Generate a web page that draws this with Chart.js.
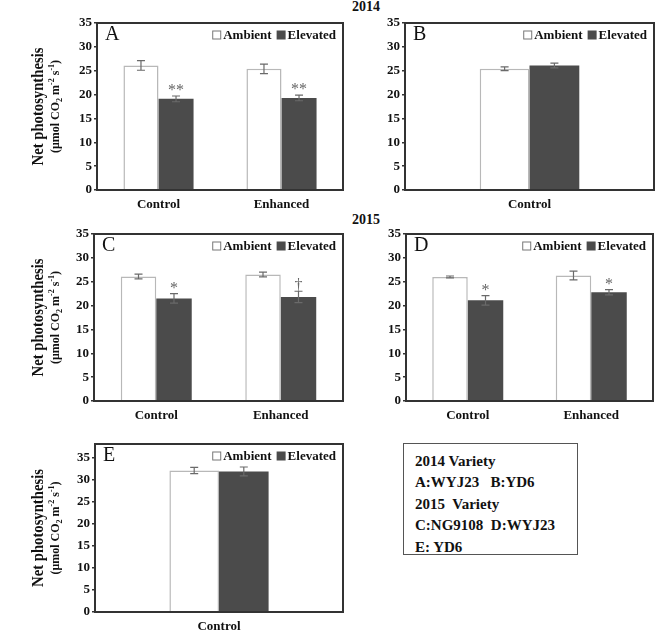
<!DOCTYPE html>
<html>
<head>
<meta charset="utf-8">
<script src="https://cdn.jsdelivr.net/npm/chart.js@4.4.1/dist/chart.umd.min.js"></script>
<style>
  body { margin: 0; background: #fff; }
  #wrap { position: relative; width: 656px; height: 635px; background: #fff; font-family: "Liberation Serif", "Times New Roman", serif; }
  canvas { position: absolute; }
  .yr { position: absolute; font-weight: bold; font-size: 14px; color: #111; line-height: 14px; }
  #note { position: absolute; left: 403px; top: 443px; border: 1.5px solid #555;
          padding: 7px 0 0 11px; box-sizing: border-box; width: 175px; height: 112px;
          font-weight: bold; font-size: 15px; line-height: 21.4px; color: #111; white-space: pre; }
</style>
</head>
<body>
<div id="wrap">
  <div class="yr" style="left:352px;top:0px">2014</div>
  <div class="yr" style="left:352px;top:213px">2015</div>
  <canvas id="cA"></canvas>
  <canvas id="cB"></canvas>
  <canvas id="cC"></canvas>
  <canvas id="cD"></canvas>
  <canvas id="cE"></canvas>
  <div id="note">2014 Variety
A:WYJ23   B:YD6
2015  Variety
C:NG9108  D:WYJ23
E: YD6</div>
</div>
<script>
// data
const categories2 = ['Control', 'Enhanced'];
const categories1 = ['Control'];
const seriesNames = ['Ambient', 'Elevated'];
const yTicks = [0, 5, 10, 15, 20, 25, 30, 35];

const ambientA = [26.1, 25.4];
const ambientErrA = [1.0, 1.0];
const elevatedA = [19.1, 19.3];
const elevatedErrA = [0.6, 0.6];
const marksA = ['**', '**'];

const ambientB = [25.4];
const ambientErrB = [0.4];
const elevatedB = [26.1];
const elevatedErrB = [0.5];
const marksB = [''];

const ambientC = [26.1, 26.5];
const ambientErrC = [0.5, 0.5];
const elevatedC = [21.5, 21.8];
const elevatedErrC = [1.0, 1.2];
const marksC = ['*', '\u2020'];

const ambientD = [26.0, 26.3];
const ambientErrD = [0.2, 0.9];
const elevatedD = [21.1, 22.8];
const elevatedErrD = [1.0, 0.55];
const marksD = ['*', '*'];

const ambientE = [32.0];
const ambientErrE = [0.7];
const elevatedE = [31.8];
const elevatedErrE = [1.0];
const marksE = [''];

const SERIF = '"Liberation Serif", "Times New Roman", serif';
Chart.defaults.font.family = SERIF;
Chart.defaults.color = '#111';

function drawUnits(ctx, x, y) {
  // "(μmol CO2 m-2 s-1)" with sub/superscripts, centred on (x, y)
  const parts = [
    ['(\u03bcmol CO', 0], ['2', 1], [' m', 0], ['-2', -1], [' s', 0], ['-1', -1], [')', 0]
  ];
  const big = 'bold 12px ' + SERIF, small = 'bold 8px ' + SERIF;
  let w = 0;
  parts.forEach(p => { ctx.font = p[1] ? small : big; w += ctx.measureText(p[0]).width; });
  let cx = x - w / 2;
  ctx.textAlign = 'left';
  ctx.textBaseline = 'alphabetic';
  parts.forEach(p => {
    ctx.font = p[1] ? small : big;
    const dy = p[1] === 1 ? 3 : (p[1] === -1 ? -5 : 0);
    ctx.fillText(p[0], cx, y + 4 + dy);
    cx += ctx.measureText(p[0]).width;
  });
}

const panelPlugin = {
  id: 'panel',
  afterDatasetsDraw(chart) {
    const ctx = chart.ctx, ys = chart.scales.y;
    chart.data.datasets.forEach((ds, i) => {
      chart.getDatasetMeta(i).data.forEach((bar, j) => {
        const v = ds.data[j], e = ds.err[j];
        const top = ys.getPixelForValue(v + e), bot = ys.getPixelForValue(v - e);
        ctx.save();
        ctx.strokeStyle = '#6a6a6a';
        ctx.lineWidth = 1.2;
        ctx.beginPath();
        ctx.moveTo(bar.x, top); ctx.lineTo(bar.x, bot);
        ctx.moveTo(bar.x - 4, top); ctx.lineTo(bar.x + 4, top);
        ctx.moveTo(bar.x - 4, bot); ctx.lineTo(bar.x + 4, bot);
        ctx.stroke();
        if (ds.marks && ds.marks[j]) {
          ctx.fillStyle = '#666';
          ctx.font = '16px ' + SERIF;
          ctx.textAlign = 'center';
          ctx.textBaseline = 'alphabetic';
          ctx.fillText(ds.marks[j], bar.x, top - 1);
        }
        ctx.restore();
      });
    });
  },
  afterDraw(chart, args, opts) {
    const ctx = chart.ctx, a = chart.chartArea;
    ctx.save();
    // frame
    ctx.strokeStyle = '#333';
    ctx.lineWidth = 2;
    ctx.strokeRect(a.left, a.top, a.right - a.left, a.bottom - a.top);
    // panel letter
    ctx.fillStyle = '#111';
    ctx.font = '20px ' + SERIF;
    ctx.textAlign = 'left';
    ctx.textBaseline = 'middle';
    ctx.fillText(opts.letter, a.left + 8, a.top + 12);
    // legend, right aligned inside the frame
    ctx.font = 'bold 13px ' + SERIF;
    const sq = 9, gap = 2, between = 5;
    const w0 = ctx.measureText(seriesNames[0]).width, w1 = ctx.measureText(seriesNames[1]).width;
    const total = sq + gap + w0 + between + sq + gap + w1;
    let x = a.right - 7 - total;
    const ly = a.top + 12;
    ctx.fillStyle = '#fff';
    ctx.strokeStyle = '#777';
    ctx.lineWidth = 1;
    ctx.fillRect(x, ly - sq / 2, sq, sq);
    ctx.strokeRect(x + 0.5, ly - sq / 2 + 0.5, sq - 1, sq - 1);
    x += sq + gap;
    ctx.fillStyle = '#111';
    ctx.fillText(seriesNames[0], x, ly + 1);
    x += w0 + between;
    ctx.fillStyle = '#4b4b4b';
    ctx.fillRect(x, ly - sq / 2, sq, sq);
    x += sq + gap;
    ctx.fillStyle = '#111';
    ctx.fillText(seriesNames[1], x, ly + 1);
    // y axis title
    if (opts.title) {
      const my = (a.top + a.bottom) / 2;
      ctx.translate(0, my);
      ctx.rotate(-Math.PI / 2);
      ctx.textAlign = 'center';
      ctx.textBaseline = 'middle';
      ctx.save();
      ctx.translate(0, 38);
      ctx.scale(1, 1.2);
      ctx.font = 'bold 14.7px ' + SERIF;
      ctx.fillText('Net photosynthesis', 0, 0);
      ctx.restore();
      drawUnits(ctx, 0, 55);
    }
    ctx.restore();
  }
};

function makePanel(id, letter, labels, amb, ambErr, ele, eleErr, marks, yMax, catPct, box, area, title) {
  const cv = document.getElementById(id);
  cv.width = box.w; cv.height = box.h;
  cv.style.left = box.x + 'px'; cv.style.top = box.y + 'px';
  cv.style.width = box.w + 'px'; cv.style.height = box.h + 'px';
  new Chart(cv, {
    type: 'bar',
    data: {
      labels: labels,
      datasets: [
        { label: seriesNames[0], data: amb, err: ambErr, backgroundColor: '#fff', borderColor: '#b8b8b8',
          borderWidth: { top: 1.5, left: 1.5, right: 1.5, bottom: 0 },
          categoryPercentage: catPct, barPercentage: 1 },
        { label: seriesNames[1], data: ele, err: eleErr, marks: marks, backgroundColor: '#4b4b4b', borderWidth: 0,
          categoryPercentage: catPct, barPercentage: 1 }
      ]
    },
    options: {
      responsive: false,
      animation: false,
      layout: { padding: { left: 0, bottom: 0, top: area.t - box.y, right: box.x + box.w - area.r } },
      plugins: { legend: { display: false }, tooltip: { enabled: false }, panel: { letter: letter, title: title } },
      scales: {
        x: {
          grid: { display: false, drawTicks: false },
          border: { display: false },
          ticks: { padding: 7, color: '#111', font: { size: 13, weight: 'bold' } },
          afterFit(s) { s.height = box.y + box.h - area.b; }
        },
        y: {
          min: 0, max: yMax,
          afterBuildTicks(s) { s.ticks = yTicks.map(v => ({ value: v })); },
          grid: { drawOnChartArea: false, drawTicks: true, tickLength: 3, color: '#333', lineWidth: 1.5 },
          border: { display: false },
          ticks: { padding: 2, color: '#111', font: { size: 13, weight: 'bold' } },
          afterFit(s) { s.width = area.l - box.x; }
        }
      }
    },
    plugins: [panelPlugin]
  });
}

makePanel('cA', 'A', categories2, ambientA, ambientErrA, elevatedA, elevatedErrA, marksA, 35, 0.57,
  { x: 0, y: 0, w: 346, h: 214 }, { l: 97, t: 23, r: 343, b: 190 }, true);
makePanel('cB', 'B', categories1, ambientB, ambientErrB, elevatedB, elevatedErrB, marksB, 35, 0.40,
  { x: 346, y: 0, w: 310, h: 214 }, { l: 405, t: 23, r: 654, b: 190 }, false);
makePanel('cC', 'C', categories2, ambientC, ambientErrC, elevatedC, elevatedErrC, marksC, 35, 0.57,
  { x: 0, y: 214, w: 346, h: 212 }, { l: 94, t: 234, r: 343, b: 401 }, true);
makePanel('cD', 'D', categories2, ambientD, ambientErrD, elevatedD, elevatedErrD, marksD, 35, 0.575,
  { x: 346, y: 214, w: 310, h: 212 }, { l: 406, t: 234, r: 653, b: 401 }, false);
makePanel('cE', 'E', categories1, ambientE, ambientErrE, elevatedE, elevatedErrE, marksE, 38, 0.40,
  { x: 0, y: 426, w: 346, h: 209 }, { l: 95, t: 444, r: 343, b: 612 }, true);
</script>
</body>
</html>
